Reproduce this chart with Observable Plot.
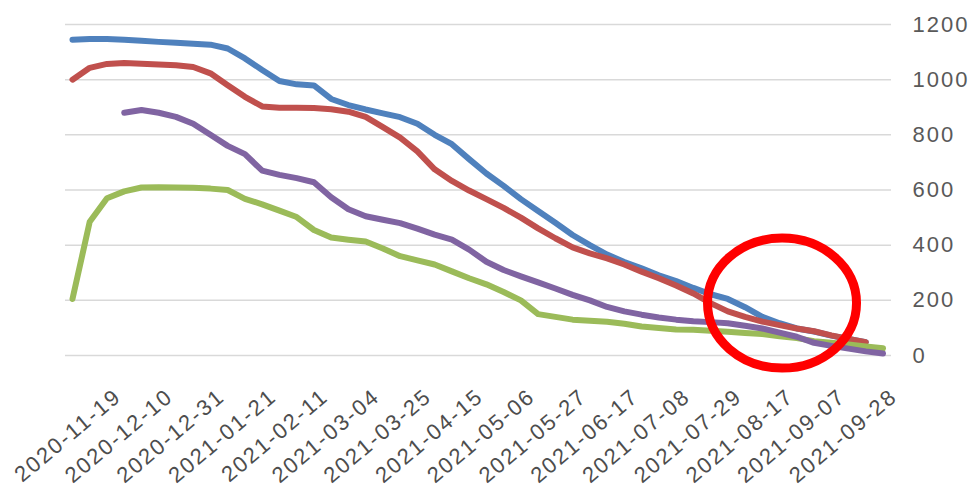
<!DOCTYPE html>
<html>
<head>
<meta charset="utf-8">
<script src="https://cdn.jsdelivr.net/npm/d3@7"></script>
<script src="https://cdn.jsdelivr.net/npm/@observablehq/plot@0.6"></script>
<style>
  html, body { margin: 0; padding: 0; background: #ffffff; }
  #chart { width: 979px; height: 493px; overflow: hidden; }
</style>
</head>
<body>
<div id="chart"></div>
<script>
// Category row positions of the sampled points (Excel category axis, rows of the data sheet)
const rows = [0, 7, 14, 21, 28, 35, 42, 49, 56, 63, 70, 77, 84, 91, 98, 105, 112, 119, 126, 133,
  140, 147, 154, 161, 168, 175, 182, 189, 196, 203, 210, 217, 224, 231, 238, 245, 252, 259, 266,
  273, 280, 287, 294, 301, 308, 315, 322, 329];

const blueValues = [1145, 1147, 1147, 1145, 1141, 1137, 1134, 1130, 1127, 1113, 1077, 1035, 995, 983,
  979, 930, 908, 892, 878, 864, 840, 800, 766, 712, 660, 615, 567, 524, 481, 437, 400, 366, 339,
  316, 291, 270, 245, 222, 205, 175, 140, 117, 98, 87, 72, 60, 48, null];

const redValues = [1000, 1043, 1057, 1060, 1058, 1055, 1052, 1046, 1023, 980, 938, 903, 898, 898,
  897, 893, 884, 865, 828, 790, 740, 675, 633, 598, 567, 535, 500, 461, 425, 392, 370, 352, 330,
  304, 280, 254, 225, 190, 160, 140, 123, 110, 98, 88, 73, 60, 48, null];

const greenValues = [205, 485, 570, 595, 609, 610, 609, 608, 605, 600, 568, 548, 525, 502, 455, 428,
  420, 413, 388, 360, 345, 330, 305, 280, 258, 230, 200, 150, 140, 130, 126, 122, 115, 105, 100,
  94, 93, 90, 86, 82, 78, 70, 63, 52, 46, 40, 33, 26];

const purpleValues = [null, null, null, 880, 890, 880, 865, 840, 800, 760, 730, 670, 655, 643, 628,
  574, 530, 505, 492, 480, 460, 438, 420, 384, 340, 310, 287, 265, 243, 220, 200, 176, 160, 148,
  138, 130, 124, 121, 117, 108, 98, 83, 68, 46, 35, 25, 15, 7];

// Category axis labels and the rows they sit at
const xTickLabels = ["2020-11-19", "2020-12-10", "2020-12-31", "2021-01-21", "2021-02-11",
  "2021-03-04", "2021-03-25", "2021-04-15", "2021-05-06", "2021-05-27", "2021-06-17",
  "2021-07-08", "2021-07-29", "2021-08-17", "2021-09-07", "2021-09-28"];
const xTickRows = [18.5, 39.5, 60.5, 81.5, 102.5, 123.5, 144.5, 165.5, 186.5, 207.5, 228.5,
  249.5, 270.5, 291.5, 312.5, 333.5];

const yTicks = [0, 200, 400, 600, 800, 1000, 1200];

// Red highlight ellipse (annotation), centre in data coordinates
const highlight = [{row: 288, value: 190}];

const seriesColors = {blue: "#4F81BD", red: "#C0504D", green: "#9BBB59", purple: "#8064A2"};

const toTable = (vals) => rows.map((r, i) => ({row: r, value: vals[i]}));
const labelTable = xTickLabels.map((t, i) => ({row: xTickRows[i], label: t}));

const ellipseSymbol = {
  draw(context) {
    const rx = 74.5, ry = 65, k = 0.5523;
    context.moveTo(rx, 0);
    context.bezierCurveTo(rx, ry * k, rx * k, ry, 0, ry);
    context.bezierCurveTo(-rx * k, ry, -rx, ry * k, -rx, 0);
    context.bezierCurveTo(-rx, -ry * k, -rx * k, -ry, 0, -ry);
    context.bezierCurveTo(rx * k, -ry, rx, -ry * k, rx, 0);
    context.closePath();
  }
};

const lineOpts = (color) => ({x: "row", y: "value", stroke: color, strokeWidth: 6,
  strokeLinejoin: "round", strokeLinecap: "round"});

const chart = Plot.plot({
  width: 979,
  height: 493,
  marginLeft: 65,
  marginRight: 88,
  marginTop: 24,
  marginBottom: 138,
  style: "font-family: 'Liberation Sans', Arial, sans-serif; font-size: 22px; letter-spacing: 2px; color: #595959; background: #ffffff; overflow: visible;",
  x: {type: "linear", domain: [-2.84, 332.44], axis: null},
  y: {domain: [0, 1200], ticks: yTicks, axis: "right", tickSize: 0, tickPadding: 21,
      label: null, tickFormat: d => String(d)},
  marks: [
    Plot.ruleY(yTicks, {stroke: "#d9d9d9", strokeWidth: 1.5}),
    Plot.line(toTable(blueValues), lineOpts(seriesColors.blue)),
    Plot.line(toTable(redValues), lineOpts(seriesColors.red)),
    Plot.line(toTable(greenValues), lineOpts(seriesColors.green)),
    Plot.line(toTable(purpleValues), lineOpts(seriesColors.purple)),
    Plot.dot(highlight, {x: "row", y: "value", symbol: ellipseSymbol, r: 10,
      stroke: "#ff0000", strokeWidth: 9, fill: "none"}),
    Plot.text(labelTable, {x: "row", y: () => 0, text: "label", rotate: -40,
      textAnchor: "end", dy: 38, fill: "#4d4d4d", fontSize: 22})
  ]
});

document.getElementById("chart").appendChild(chart);
</script>
</body>
</html>
